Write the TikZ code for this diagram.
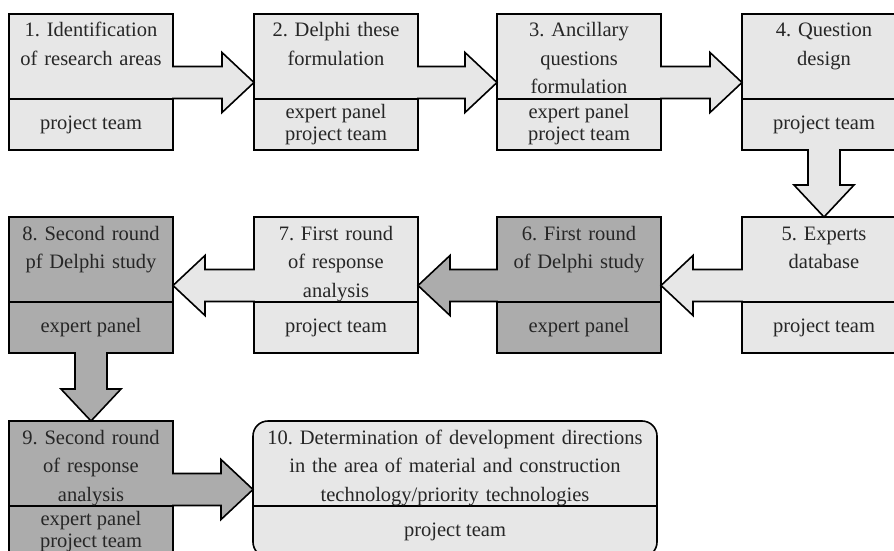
\documentclass[tikz,border=0pt]{standalone}
\usepackage{fontspec}
\setmainfont{Liberation Serif}
\usetikzlibrary{calc,positioning}
\definecolor{lightgr}{RGB}{231,231,231}
\definecolor{darkgr}{RGB}{172,172,172}
\frenchspacing

\tikzset{
  stagebox/.style={draw,rectangle,line width=1.6pt,anchor=north west,minimum height=136pt,inner sep=0pt,outer sep=0pt},
  uptext/.style={anchor=base,align=center,inner sep=0pt,text=black!85,font=\fontsize{20.5}{28.5}\selectfont},
  lowtext/.style={align=center,inner sep=0pt,text=black!85,font=\fontsize{20.5}{22}\selectfont},
  bigarrow/.style={draw,line width=1.6pt,line join=miter,
    to path={let \p1=(\tikztostart),\p2=(\tikztotarget),
      \p3=($(\p2)!32pt!(\p1)$),\p4=($(\p1)!-0.8pt!(\p2)$) in
      ($(\p4)!16pt!90:(\p2)$) -- ($(\p3)!16pt!90:(\p2)$) -- ($(\p3)!30pt!90:(\p2)$)
      -- (\p2) -- ($(\p3)!30pt!-90:(\p2)$) -- ($(\p3)!16pt!-90:(\p2)$) -- ($(\p4)!16pt!-90:(\p2)$)}}
}

% name, north west corner, width, box style, upper text, lower text
\newcommand{\stage}[6]{%
  \node[stagebox,#4,minimum width=#3pt] (#1) at (#2) {};
  \draw[line width=1.6pt] ($(#1.north west)+(0,85)$) -- ($(#1.north east)+(0,85)$);
  \node[uptext,text width=#3pt-8pt] (#1-up) at ($(#1.north)+(0,23)$) {#5};
  \node[lowtext] (#1-low) at ($(#1.north)+(0,110.5)$) {#6};
}

\begin{document}
\begin{tikzpicture}[x=1pt,y=-1pt]
\fill[white] (0,0) rectangle (894,551);
\useasboundingbox (0,0) rectangle (894,551);
\clip (0,0) rectangle (894,551);

% first row
\stage{s1}{9,14}{164}{fill=lightgr}{1. Identification\\of research areas}{project team}
\stage{s2}{254,14}{164}{fill=lightgr}{2. Delphi these\\formulation}{expert panel\\project team}
\stage{s3}{497,14}{164}{fill=lightgr}{3. Ancillary\\questions\\formulation}{expert panel\\project team}
\stage{s4}{742,14}{164}{fill=lightgr}{4. Question\\design}{project team}
% second row
\stage{s5}{742,217}{164}{fill=lightgr}{5. Experts\\database}{project team}
\stage{s6}{497,217}{164}{fill=darkgr}{6. First round\\of Delphi study}{expert panel}
\stage{s7}{254,217}{164}{fill=lightgr}{7. First round\\of response\\analysis}{project team}
\stage{s8}{9,217}{164}{fill=darkgr}{8. Second round\\pf Delphi study}{expert panel}
% third row
\stage{s9}{9,421}{164}{fill=darkgr}{9. Second round\\of response\\analysis}{expert panel\\project team}
\stage{s10}{253,421}{404}{fill=lightgr,rounded corners=15pt}{10. Determination of development directions\\in the area of material and construction\\technology/priority technologies}{project team}

% arrows
\coordinate (c12) at ($(s2.north west)+(0,68.5)$);
\coordinate (c23) at ($(s3.north west)+(0,68.5)$);
\coordinate (c34) at ($(s4.north west)+(0,68.5)$);
\coordinate (c56) at ($(s6.north east)+(0,68.5)$);
\coordinate (c67) at ($(s7.north east)+(0,68.5)$);
\coordinate (c78) at ($(s8.north east)+(0,68.5)$);
\coordinate (c910) at ($(s10.north west)+(0,68.5)$);
\draw[bigarrow,fill=lightgr] (s1.east |- c12) to (c12);
\draw[bigarrow,fill=lightgr] (s2.east |- c23) to (c23);
\draw[bigarrow,fill=lightgr] (s3.east |- c34) to (c34);
\draw[bigarrow,fill=lightgr] (s4.south) to (s5.north);
\draw[bigarrow,fill=lightgr] (s5.west |- c56) to (c56);
\draw[bigarrow,fill=darkgr] (s6.west |- c67) to (c67);
\draw[bigarrow,fill=lightgr] (s7.west |- c78) to (c78);
\draw[bigarrow,fill=darkgr] (s8.south) to (s9.north);
\draw[bigarrow,fill=darkgr] (s9.east |- c910) to (c910);
\end{tikzpicture}
\end{document}
